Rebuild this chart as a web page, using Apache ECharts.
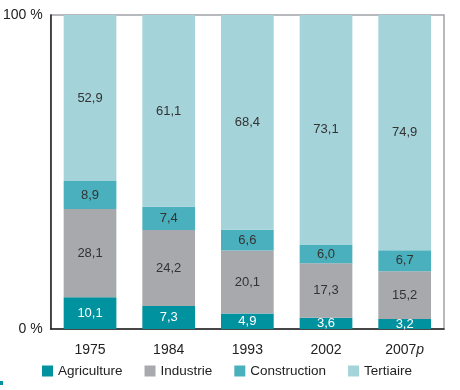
<!DOCTYPE html>
<html><head><meta charset="utf-8">
<script src="https://cdn.jsdelivr.net/npm/echarts@6/dist/echarts.min.js"></script>
<style>html,body{margin:0;padding:0;background:#fff}#c{width:460px;height:390px}</style>
</head><body><div id="c"></div>
<script>
const categories = ['1975', '1984', '1993', '2002', '2007p'];
const agriculture = [10.1, 7.3, 4.9, 3.6, 3.2];
const industrie = [28.1, 24.2, 20.1, 17.3, 15.2];
const construction = [8.9, 7.4, 6.6, 6.0, 6.7];
const tertiaire = [52.9, 61.1, 68.4, 73.1, 74.9];
const seriesNames = ['Agriculture', 'Industrie', 'Construction', 'Tertiaire'];
const colors = ['#00929f', '#a7a9ac', '#4bb0bd', '#a4d3da'];
const labelColors = ['#ffffff', '#333333', '#333333', '#333333'];
const FONT = '"Liberation Sans", Arial, sans-serif';

const chart = echarts.init(document.getElementById('c'), null, {renderer: 'canvas'});
const datas = [agriculture, industrie, construction, tertiaire];
const fmt = v => String(v.toFixed(1)).replace('.', ',');
chart.setOption({
  animation: false,
  textStyle: {fontFamily: FONT},
  grid: {left: 46, right: 16, top: 15, bottom: 61, show: true, borderColor: '#a0a3a6', borderWidth: 1.5},
  legend: {
    top: 359, left: 37, itemWidth: 11, itemHeight: 11, itemGap: 22, icon: 'rect',
    textStyle: {fontFamily: FONT, fontSize: 13.5, color: '#222'},
    data: seriesNames
  },
  xAxis: {
    type: 'category', data: categories,
    axisLine: {lineStyle: {color: '#222', width: 1.5}},
    axisTick: {show: false},
    axisLabel: {
      interval: 0,
      fontFamily: FONT, fontSize: 14, color: '#222', margin: 14,
      formatter: v => v.endsWith('p') ? v.slice(0, -1) + '{i|p}' : v,
      rich: {i: {fontStyle: 'italic', fontFamily: FONT, fontSize: 14, color: '#222'}}
    }
  },
  yAxis: {
    type: 'value', min: 0, max: 100, interval: 100,
    axisLine: {show: true, lineStyle: {color: '#222', width: 1.5}},
    axisTick: {show: false},
    splitLine: {show: false},
    axisLabel: {fontFamily: FONT, fontSize: 14, color: '#222', margin: 8, formatter: v => v + ' %'}
  },
  graphic: [{type: 'rect', shape: {x: 0, y: 381, width: 3, height: 4}, style: {fill: '#00929f'}}],
  series: datas.map((d, i) => ({
    name: seriesNames[i], type: 'bar', stack: 'total', data: d,
    barWidth: '67%',
    itemStyle: {color: colors[i]},
    label: {
      show: true, position: 'inside', fontFamily: FONT, fontSize: 13,
      color: labelColors[i], formatter: p => fmt(p.value)
    }
  }))
});
</script></body></html>
